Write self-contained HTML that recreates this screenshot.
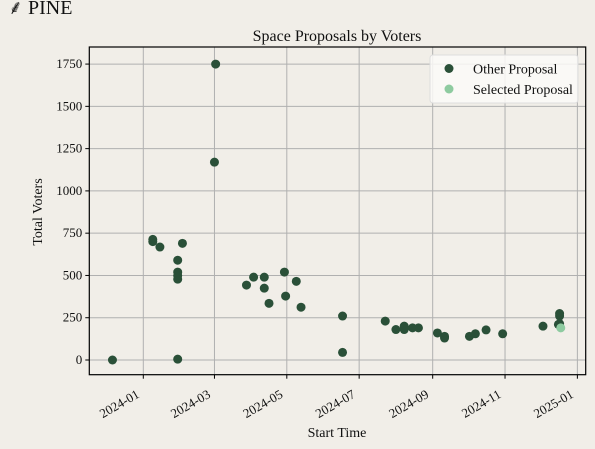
<!DOCTYPE html>
<html><head><meta charset="utf-8"><style>
body{margin:0;background:#f1eee8;}
svg{display:block;font-family:"Liberation Serif",serif;}
</style></head><body>
<svg id="c" width="595" height="449" xmlns="http://www.w3.org/2000/svg">
<rect width="595" height="449" fill="#f1eee8"/>
<text x="8" y="14" font-size="20" fill="#111">&#x2E19; PINE</text>
<text x="337" y="41" font-size="16" text-anchor="middle" fill="#111">Space Proposals by Voters</text>
<text x="337" y="437" font-size="14" text-anchor="middle" fill="#111">Start Time</text>
<text x="0" y="0" font-size="14" text-anchor="middle" fill="#111" transform="translate(42,212) rotate(-90)">Total Voters</text>
<g id="grid"></g><g id="pts"></g><g id="axes"></g>
</svg>
<script>
// days since 2024-01-01
const otherDays = [-26,8,8,14,29,29,29,29,29,33,61,60,87,93,102,102,106,119,120,129,133,168,168,204,213,220,220,227,232,248,254,254,275,280,289,303,337,351,351,351,350];
const otherVoters = [0,713,700,668,590,520,500,478,5,690,1750,1170,443,490,490,425,335,520,378,465,312,260,45,230,180,200,180,190,190,160,130,140,140,155,178,155,200,275,260,215,210];
const selectedDays = [352];
const selectedVoters = [190];
const yTicks = [0,250,500,750,1000,1250,1500,1750];
const xTickLabels = ["2024-01","2024-03","2024-05","2024-07","2024-09","2024-11","2025-01"];
const xTickDays = [0,60,121,182,244,305,366];

const L=89.3,R=585.7,T=47,B=374.7;
const xs=d=>143.3+d*1.186;
const ys=v=>360-v*0.1691;
const NS="http://www.w3.org/2000/svg";
function mk(tag,attrs,parent){const e=document.createElementNS(NS,tag);for(const k in attrs)e.setAttribute(k,attrs[k]);parent.appendChild(e);return e;}
const grid=document.getElementById('grid'),pts=document.getElementById('pts'),axes=document.getElementById('axes');
yTicks.forEach(v=>{
  const y=ys(v);
  const g=mk('line',{x1:L,x2:R,y1:y,y2:y,stroke:'#b0b0b0','stroke-width':1},grid);
  
  
  mk('line',{x1:L-4,x2:L,y1:y,y2:y,stroke:'#000'},axes);
  const t=mk('text',{x:L-7,y:y+4,'font-size':13,'text-anchor':'end',fill:'#111'},axes);
  t.textContent=v;
  
  
});
xTickDays.forEach((d,i)=>{
  const x=xs(d);
  const g=mk('line',{x1:x,x2:x,y1:T,y2:B,stroke:'#b0b0b0','stroke-width':1},grid);
  
  
  mk('line',{x1:x,x2:x,y1:B,y2:B+4,stroke:'#000'},axes);
  const ax=x-3, ay=B+22;
  const t=mk('text',{x:ax,y:ay,'font-size':13,'text-anchor':'end',fill:'#111',transform:`rotate(-30 ${ax} ${ay})`},axes);
  t.textContent=xTickLabels[i];
  
  
});
otherDays.forEach((d,i)=>{
  const c=mk('circle',{cx:xs(d),cy:ys(otherVoters[i]),r:4.5,fill:'#2a5038'},pts);
  
  
});
selectedDays.forEach((d,i)=>{
  const c=mk('circle',{cx:xs(d),cy:ys(selectedVoters[i]),r:4.5,fill:'#8ecba0'},pts);
  
  
});
const fr=mk('rect',{x:L,y:T,width:R-L,height:B-T,fill:'none',stroke:'#000','stroke-width':1.2},axes);


const lg=mk('g',{},axes);


mk('rect',{x:430,y:55,width:148,height:48,rx:3,fill:'#fbfaf8','fill-opacity':0.85,stroke:'#ddd'},lg);
const e1=mk('circle',{cx:449,cy:68.5,r:4.5,fill:'#2a5038'},lg);


const t1=mk('text',{x:473,y:73.5,'font-size':14,fill:'#111'},lg);t1.textContent='Other Proposal';
const e2=mk('circle',{cx:449,cy:89,r:4.5,fill:'#8ecba0'},lg);


const t2=mk('text',{x:473,y:94,'font-size':14,fill:'#111'},lg);t2.textContent='Selected Proposal';
</script>
</body></html>
